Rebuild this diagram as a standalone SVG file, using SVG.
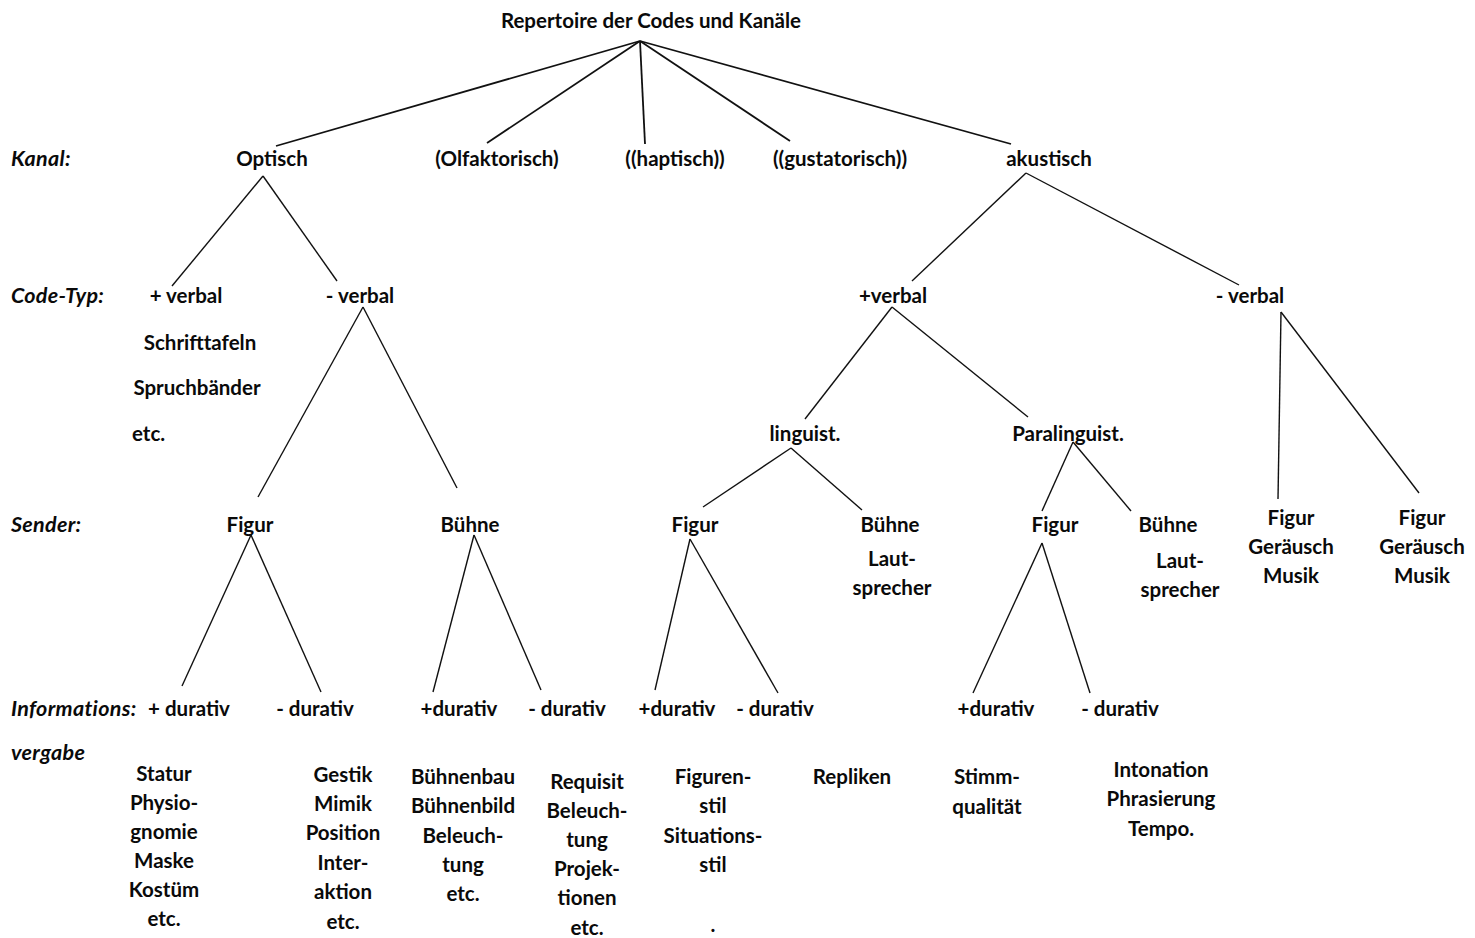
<svg xmlns="http://www.w3.org/2000/svg" width="1475" height="938" viewBox="0 0 1475 938">
<style>
text{font-family:Lato,"Liberation Sans",sans-serif;font-weight:bold;font-size:20.5px;fill:#0a0a0a}
.c{text-anchor:middle}
.lab{font-style:italic;font-size:21.5px;letter-spacing:0.3px}
.e line{stroke:#111;stroke-width:1.4}
</style>
<rect width="1475" height="938" fill="#fff"/>
<g id="labels">
<text class="lab" x="11" y="166">Kanal:</text>
<text class="lab" x="11" y="303">Code-Typ:</text>
<text class="lab" x="11" y="532">Sender:</text>
<text class="lab" x="11" y="716">Informations:</text>
<text class="lab" x="11" y="760">vergabe</text>
</g>
<g id="root"><text class="c" x="651" y="28">Repertoire der Codes und Kanäle</text></g>
<g id="optisch"><text class="c" x="272" y="166">Optisch</text></g>
<g id="olfaktorisch"><text class="c" x="497" y="166">(Olfaktorisch)</text></g>
<g id="haptisch"><text class="c" x="675" y="166">((haptisch))</text></g>
<g id="gustatorisch"><text class="c" x="840" y="166">((gustatorisch))</text></g>
<g id="akustisch"><text class="c" x="1049" y="166">akustisch</text></g>
<g id="opt-plusverbal"><text class="c" x="186" y="303">+ verbal</text>
<text class="c" x="200" y="350">Schrifttafeln</text>
<text class="c" x="197" y="395">Spruchbänder</text>
<text x="132" y="441">etc.</text></g>
<g id="opt-minusverbal"><text class="c" x="360" y="303">- verbal</text></g>
<g id="ak-plusverbal"><text class="c" x="893" y="303">+verbal</text></g>
<g id="ak-minusverbal"><text class="c" x="1250" y="303">- verbal</text></g>
<g id="linguist"><text class="c" x="805" y="441">linguist.</text></g>
<g id="paralinguist"><text class="c" x="1068" y="441">Paralinguist.</text></g>
<g id="opt-figur"><text class="c" x="250" y="532">Figur</text></g>
<g id="opt-buehne"><text class="c" x="470" y="532">Bühne</text></g>
<g id="ling-figur"><text class="c" x="695" y="532">Figur</text></g>
<g id="ling-buehne"><text class="c" x="890" y="532">Bühne</text>
<text class="c" x="892" y="566">Laut-</text>
<text class="c" x="892" y="595">sprecher</text></g>
<g id="para-figur"><text class="c" x="1055" y="532">Figur</text></g>
<g id="para-buehne"><text class="c" x="1168" y="532">Bühne</text>
<text class="c" x="1180" y="568">Laut-</text>
<text class="c" x="1180" y="597">sprecher</text></g>
<g id="nv-1"><text class="c" x="1291" y="525">Figur</text>
<text class="c" x="1291" y="554">Geräusch</text>
<text class="c" x="1291" y="583">Musik</text></g>
<g id="nv-2"><text class="c" x="1422" y="525">Figur</text>
<text class="c" x="1422" y="554">Geräusch</text>
<text class="c" x="1422" y="583">Musik</text></g>
<g id="d1"><text class="c" x="189" y="716">+ durativ</text>
<text class="c" x="164" y="781">Statur</text>
<text class="c" x="164" y="810">Physio-</text>
<text class="c" x="164" y="839">gnomie</text>
<text class="c" x="164" y="868">Maske</text>
<text class="c" x="164" y="897">Kostüm</text>
<text class="c" x="164" y="926">etc.</text></g>
<g id="d2"><text class="c" x="315" y="716">- durativ</text>
<text class="c" x="343" y="782">Gestik</text>
<text class="c" x="343" y="811">Mimik</text>
<text class="c" x="343" y="840">Position</text>
<text class="c" x="343" y="870">Inter-</text>
<text class="c" x="343" y="899">aktion</text>
<text class="c" x="343" y="929">etc.</text></g>
<g id="d3"><text class="c" x="459" y="716">+durativ</text>
<text class="c" x="463" y="784">Bühnenbau</text>
<text class="c" x="463" y="813">Bühnenbild</text>
<text class="c" x="463" y="843">Beleuch-</text>
<text class="c" x="463" y="872">tung</text>
<text class="c" x="463" y="901">etc.</text></g>
<g id="d4"><text class="c" x="567" y="716">- durativ</text>
<text class="c" x="587" y="789">Requisit</text>
<text class="c" x="587" y="818">Beleuch-</text>
<text class="c" x="587" y="847">tung</text>
<text class="c" x="587" y="876">Projek-</text>
<text class="c" x="587" y="905">tionen</text>
<text class="c" x="587" y="935">etc.</text></g>
<g id="d5"><text class="c" x="677" y="716">+durativ</text>
<text class="c" x="713" y="784">Figuren-</text>
<text class="c" x="713" y="813">stil</text>
<text class="c" x="713" y="843">Situations-</text>
<text class="c" x="713" y="872">stil</text>
<text class="c" x="713" y="932">.</text></g>
<g id="d6"><text class="c" x="775" y="716">- durativ</text>
<text class="c" x="852" y="784">Repliken</text></g>
<g id="d7"><text class="c" x="996" y="716">+durativ</text>
<text class="c" x="987" y="784">Stimm-</text>
<text class="c" x="987" y="814">qualität</text></g>
<g id="d8"><text class="c" x="1120" y="716">- durativ</text>
<text class="c" x="1161" y="777">Intonation</text>
<text class="c" x="1161" y="806">Phrasierung</text>
<text class="c" x="1161" y="836">Tempo.</text></g>
<g id="connectors" class="e">
<line x1="640" y1="41" x2="276" y2="146" style="stroke-width:1.8"/>
<line x1="640" y1="41" x2="487" y2="143" style="stroke-width:1.8"/>
<line x1="640" y1="41" x2="645" y2="144" style="stroke-width:1.8"/>
<line x1="640" y1="41" x2="790" y2="141" style="stroke-width:1.8"/>
<line x1="640" y1="41" x2="1011" y2="144" style="stroke-width:1.8"/>
<line x1="263" y1="176" x2="172" y2="286"/>
<line x1="263" y1="176" x2="337" y2="281"/>
<line x1="1026" y1="173" x2="912" y2="281"/>
<line x1="1026" y1="173" x2="1239" y2="285"/>
<line x1="363" y1="307" x2="258" y2="497"/>
<line x1="363" y1="307" x2="457" y2="488"/>
<line x1="892" y1="307" x2="805" y2="419"/>
<line x1="892" y1="307" x2="1028" y2="417"/>
<line x1="1281" y1="312" x2="1278" y2="499"/>
<line x1="1281" y1="312" x2="1419" y2="493"/>
<line x1="791" y1="448" x2="703" y2="507"/>
<line x1="791" y1="448" x2="862" y2="510"/>
<line x1="1073" y1="442" x2="1042" y2="511"/>
<line x1="1073" y1="442" x2="1131" y2="511"/>
<line x1="251" y1="535" x2="182" y2="686"/>
<line x1="251" y1="535" x2="321" y2="692"/>
<line x1="474" y1="535" x2="433" y2="692"/>
<line x1="474" y1="535" x2="541" y2="690"/>
<line x1="690" y1="539" x2="655" y2="690"/>
<line x1="690" y1="539" x2="778" y2="693"/>
<line x1="1042" y1="543" x2="973" y2="693"/>
<line x1="1042" y1="543" x2="1090" y2="693"/>
</g>
</svg>
